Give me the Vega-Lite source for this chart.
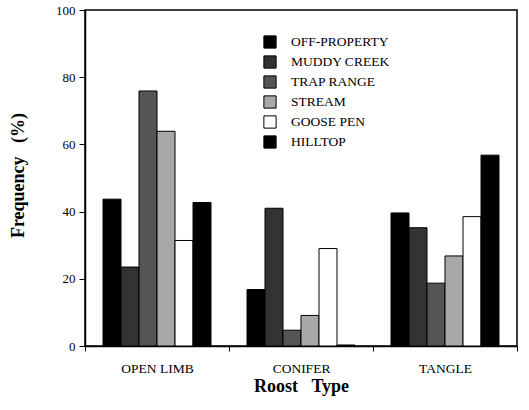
{
  "$schema": "https://vega.github.io/schema/vega-lite/v6.json",
  "width": 432,
  "height": 336,
  "autosize": {"type": "none"},
  "padding": {"left": 85, "top": 10, "right": 12, "bottom": 64},
  "background": "white",
  "config": {
    "font": "Liberation Serif",
    "view": {"stroke": "black", "strokeWidth": 1.5},
    "axis": {"domainColor": "black", "tickColor": "black", "grid": false, "labelColor": "black", "titleColor": "black", "labelFont": "Liberation Serif", "titleFont": "Liberation Serif", "domainWidth": 1.5},
    "legend": {"labelFont": "Times New Roman", "labelColor": "black", "labelFontWeight": "normal"}
  },
  "data": {
    "values": [
      {"roost": "OPEN LIMB", "site": "OFF-PROPERTY", "freq": 43.7},
      {"roost": "OPEN LIMB", "site": "MUDDY CREEK", "freq": 23.5},
      {"roost": "OPEN LIMB", "site": "TRAP RANGE", "freq": 75.9},
      {"roost": "OPEN LIMB", "site": "STREAM", "freq": 63.9},
      {"roost": "OPEN LIMB", "site": "GOOSE PEN", "freq": 31.4},
      {"roost": "OPEN LIMB", "site": "HILLTOP", "freq": 42.7},
      {"roost": "CONIFER", "site": "OFF-PROPERTY", "freq": 16.8},
      {"roost": "CONIFER", "site": "MUDDY CREEK", "freq": 41.0},
      {"roost": "CONIFER", "site": "TRAP RANGE", "freq": 4.7},
      {"roost": "CONIFER", "site": "STREAM", "freq": 9.1},
      {"roost": "CONIFER", "site": "GOOSE PEN", "freq": 29.0},
      {"roost": "CONIFER", "site": "HILLTOP", "freq": 0.3},
      {"roost": "TANGLE", "site": "OFF-PROPERTY", "freq": 39.6},
      {"roost": "TANGLE", "site": "MUDDY CREEK", "freq": 35.2},
      {"roost": "TANGLE", "site": "TRAP RANGE", "freq": 18.7},
      {"roost": "TANGLE", "site": "STREAM", "freq": 26.8},
      {"roost": "TANGLE", "site": "GOOSE PEN", "freq": 38.5},
      {"roost": "TANGLE", "site": "HILLTOP", "freq": 56.8}
    ]
  },
  "mark": {"type": "bar", "stroke": "black", "strokeWidth": 1},
  "encoding": {
    "x": {
      "field": "roost", "type": "nominal",
      "sort": ["OPEN LIMB", "CONIFER", "TANGLE"],
      "scale": {"paddingInner": 0, "paddingOuter": 0},
      "axis": {"title": "Roost\u00a0\u00a0\u00a0Type", "labelAngle": 0, "tickBand": "extent", "tickSize": 5, "labelPadding": 10, "labelFontSize": 13.5, "titleFontSize": 18, "titleFontWeight": "bold", "titlePadding": 3}
    },
    "xOffset": {
      "field": "site", "type": "nominal",
      "sort": ["OFF-PROPERTY", "MUDDY CREEK", "TRAP RANGE", "STREAM", "GOOSE PEN", "HILLTOP"],
      "scale": {"paddingInner": 0, "paddingOuter": 1.32}
    },
    "y": {
      "field": "freq", "type": "quantitative",
      "scale": {"domain": [0, 100]},
      "axis": {"title": "Frequency\u00a0\u00a0\u00a0(%)", "values": [0, 20, 40, 60, 80, 100], "tickSize": 6, "labelPadding": 4, "labelFontSize": 13, "titleFontSize": 18, "titleFontWeight": "bold", "titleX": -58, "titleY": 165}
    },
    "fill": {
      "field": "site", "type": "nominal",
      "sort": ["OFF-PROPERTY", "MUDDY CREEK", "TRAP RANGE", "STREAM", "GOOSE PEN", "HILLTOP"],
      "scale": {"domain": ["OFF-PROPERTY", "MUDDY CREEK", "TRAP RANGE", "STREAM", "GOOSE PEN", "HILLTOP"], "range": ["#000000", "#333333", "#555555", "#a8a8a8", "#ffffff", "#000000"]},
      "legend": {"title": null, "orient": "none", "legendX": 178, "legendY": 25, "symbolType": "square", "symbolSize": 150, "symbolStrokeColor": "black", "symbolStrokeWidth": 1, "labelFontSize": 13.5, "labelFont": "Times New Roman", "labelOffset": 14, "rowPadding": 2}
    }
  }
}
